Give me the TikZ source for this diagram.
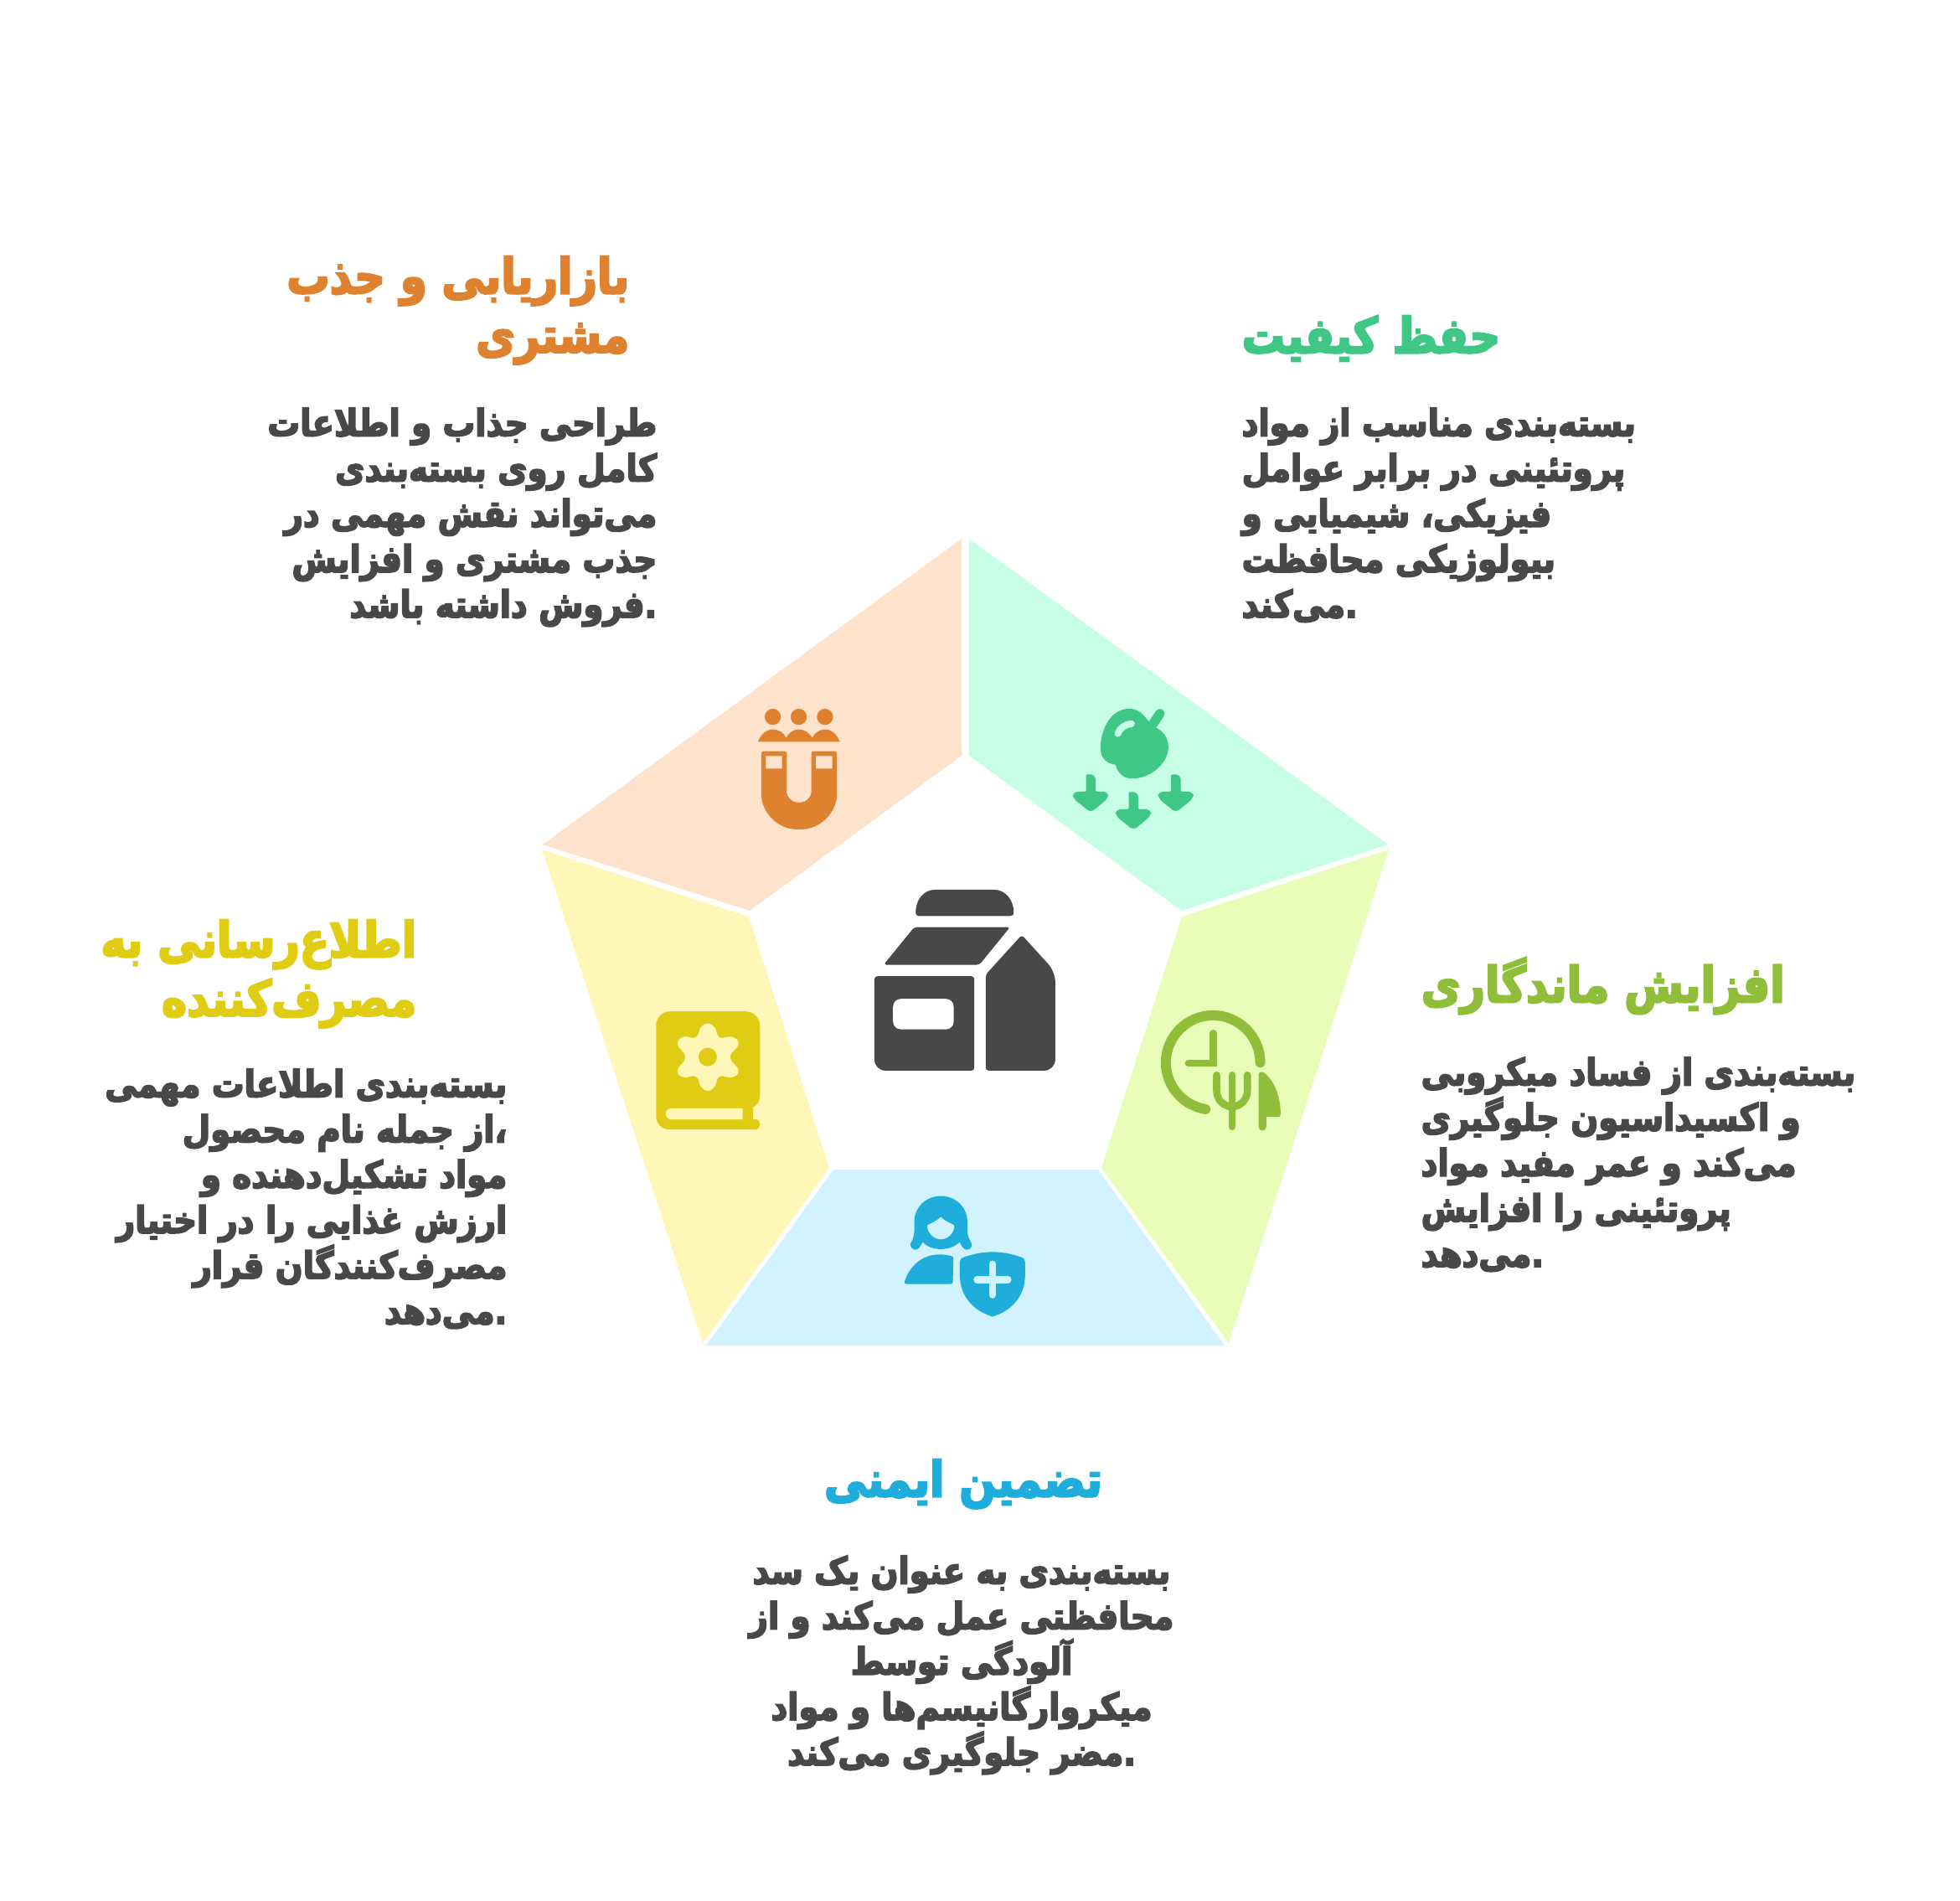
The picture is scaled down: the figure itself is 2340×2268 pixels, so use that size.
\documentclass[tikz,border=0pt]{standalone}
\usepackage{xcolor}
\usepackage{tikz}
\usepackage{fontspec}
\TeXXeTstate=1
\newfontfamily\fafont[Script=Arabic,BoldFeatures={FakeBold=4,FakeStretch=0.87}]{DejaVu Sans}
\newcommand{\rtl}[1]{\beginR #1\endR}
\definecolor{darktext}{RGB}{72, 72, 72}
\definecolor{peachfill}{RGB}{254, 227, 204}
\definecolor{mintfill}{RGB}{198, 255, 229}
\definecolor{limefill}{RGB}{232, 254, 184}
\definecolor{skyfill}{RGB}{208, 243, 254}
\definecolor{creamfill}{RGB}{254, 247, 184}
\definecolor{orangeink}{RGB}{223, 130, 48}
\definecolor{greenink}{RGB}{62, 199, 133}
\definecolor{limeink}{RGB}{145, 190, 58}
\definecolor{blueink}{RGB}{31, 173, 220}
\definecolor{yellowink}{RGB}{224, 205, 19}

\begin{document}
\begin{tikzpicture}[
    x=0.01cm, y=-0.01cm,
    title/.style={inner sep=0pt, font=\fafont\bfseries\fontsize{16.7}{20}\selectfont},
    body/.style={inner sep=0pt, text=darktext, font=\fafont\bfseries\fontsize{12.6}{15.4}\selectfont},
    icon/.style={scale=0.3333}
]
    \useasboundingbox (0, 0) rectangle (2340, 2268);

    \fill[peachfill] (1148, 643) -- (648, 1008) -- (895, 1087) -- (1148, 902) -- cycle;
    \fill[mintfill] (1157, 643) -- (1657, 1008) -- (1411, 1087) -- (1157, 902) -- cycle;
    \fill[limefill] (1658, 1014) -- (1467, 1603) -- (1315, 1394) -- (1411, 1094) -- cycle;
    \fill[skyfill] (1311, 1396) -- (1462, 1606) -- (843, 1606) -- (995, 1396) -- cycle;
    \fill[creamfill] (990, 1394) -- (839, 1603) -- (647, 1014) -- (894, 1094) -- cycle;

    \node[title, text=orangeink, anchor=north east, align=right] (markettitle) at (752, 305) {\rtl{بازاریابی و جذب}\\\rtl{مشتری}};
    \node[body, anchor=north east, align=right] (markettext) at (785, 486) {\rtl{طراحی جذاب و اطلاعات}\\\rtl{کامل روی بسته‌بندی}\\\rtl{می‌تواند نقش مهمی در}\\\rtl{جذب مشتری و افزایش}\\\rtl{.فروش داشته باشد}};

    \node[title, text=greenink, anchor=north west, align=left] (qualitytitle) at (1482, 376) {\rtl{حفظ کیفیت}};
    \node[body, anchor=north west, align=left] (qualitytext) at (1482, 486) {\rtl{بسته‌بندی مناسب از مواد}\\\rtl{پروتئینی در برابر عوامل}\\\rtl{فیزیکی، شیمیایی و}\\\rtl{بیولوژیکی محافظت}\\\rtl{.می‌کند}};

    \node[title, text=limeink, anchor=north west, align=left] (shelftitle) at (1696, 1142) {\rtl{افزایش ماندگاری}};
    \node[body, anchor=north west, align=left] (shelftext) at (1696, 1261) {\rtl{بسته‌بندی از فساد میکروبی}\\\rtl{و اکسیداسیون جلوگیری}\\\rtl{می‌کند و عمر مفید مواد}\\\rtl{پروتئینی را افزایش}\\\rtl{.می‌دهد}};

    \node[title, text=blueink, anchor=north, align=center] (safetytitle) at (1150, 1741) {\rtl{تضمین ایمنی}};
    \node[body, anchor=north, align=center] (safetytext) at (1148, 1856) {\rtl{بسته‌بندی به عنوان یک سد}\\\rtl{محافظتی عمل می‌کند و از}\\\rtl{آلودگی توسط}\\\rtl{میکروارگانیسم‌ها و مواد}\\\rtl{.مضر جلوگیری می‌کند}};

    \node[title, text=yellowink, anchor=north east, align=right] (infotitle) at (498, 1097) {\rtl{اطلاع‌رسانی به}\\\rtl{مصرف‌کننده}};
    \node[body, anchor=north east, align=right] (infotext) at (606, 1275) {\rtl{بسته‌بندی اطلاعات مهمی}\\\rtl{،از جمله نام محصول}\\\rtl{مواد تشکیل‌دهنده و}\\\rtl{ارزش غذایی را در اختیار}\\\rtl{مصرف‌کنندگان قرار}\\\rtl{.می‌دهد}};

    \begin{scope}[icon, shift={(3090, 3150)}, darktext]
        \fill (200,130) .. controls (193,130) and (190,125) .. (190,118) .. controls (190,70) and (220,36) .. (260,36) -- (470,36) .. controls (510,36) and (541,70) .. (541,118) .. controls (541,125) and (538,130) .. (530,130) -- cycle;
        \fill[rounded corners=1pt] (185,170) -- (528,170) -- (418,305) -- (75,305) -- cycle;
        \fill[rounded corners=1pt] (400,346) -- (400,684) [rounded corners=3.8pt] -- (42,684) [rounded corners=1pt] -- (42,346) -- cycle;
        \fill[white, rounded corners=2.6pt] (109,427) rectangle (326,536);
        \fill[rounded corners=1.2pt] (441,684) [rounded corners=1pt] -- (441,340) -- (570,198) [rounded corners=3.5pt] -- (690,330) [rounded corners=3.8pt] -- (690,684) [rounded corners=1pt] -- cycle;
    \end{scope}

    \begin{scope}[icon, shift={(2670, 2490)}, orangeink]
        \fill (98,77) circle[radius=29] (191,77) circle[radius=29] (285,77) circle[radius=29];
        \fill (45,166) .. controls (55,140) and (75,122) .. (98,122) .. controls (120,122) and (138,135) .. (146,152) .. controls (155,135) and (172,122) .. (191,122) .. controls (212,122) and (230,135) .. (239,152) .. controls (248,135) and (265,122) .. (285,122) .. controls (310,122) and (330,142) .. (338,166) -- cycle;
        \fill[rounded corners=.8pt] (57,345) -- (57,200) -- (148,200) -- (148,340) .. controls (148,364) and (168,383) .. (192,383) .. controls (216,383) and (236,364) .. (236,340) -- (236,200) -- (328,200) -- (328,345) .. controls (328,420) and (267,480) .. (192,480) .. controls (117,480) and (57,420) .. (57,345) -- cycle;
        \fill[peachfill] (73,217) rectangle (131,262) (253,217) rectangle (311,262);
    \end{scope}

    \begin{scope}[icon, shift={(3810, 2490)}, greenink]
        \fill (300,88) .. controls (280,60) and (260,48) .. (235,48) .. controls (170,48) and (132,120) .. (132,190) .. controls (132,225) and (155,245) .. (185,248) .. controls (195,280) and (215,298) .. (245,298) .. controls (310,298) and (375,245) .. (375,185) .. controls (375,150) and (355,128) .. (330,115) -- cycle;
        \draw[greenink, line width=3.2pt, line cap=round] (318,105) -- (345,65);
        \draw[mintfill, line width=2.3pt, line cap=round] (194,137) .. controls (203,115) and (220,104) .. (243,102);
        \fill[rounded corners=1.6pt] (80,283) -- (114,283) [rounded corners=.4pt] -- (114,345) [rounded corners=1.6pt] -- (160,345) -- (160,368) -- (97,420) -- (33,368) -- (33,345) [rounded corners=.4pt] -- (80,345) -- cycle;
        \fill[rounded corners=1.6pt] (233,346) -- (267,346) [rounded corners=.4pt] -- (267,408) [rounded corners=1.6pt] -- (313,408) -- (313,431) -- (250,483) -- (186,431) -- (186,408) [rounded corners=.4pt] -- (233,408) -- cycle;
        \fill[rounded corners=1.6pt] (385,283) -- (419,283) [rounded corners=.4pt] -- (419,345) [rounded corners=1.6pt] -- (465,345) -- (465,368) -- (402,420) -- (338,368) -- (338,345) [rounded corners=.4pt] -- (385,345) -- cycle;
    \end{scope}

    \begin{scope}[icon, shift={(4125, 3585)}, limeink]
        \draw[line width=3.4pt, line cap=round] (389,220) .. controls (389,127) and (313,51) .. (220,51) .. controls (127,51) and (51,127) .. (51,220) .. controls (51,303) and (111,374) .. (193,387);
        \draw[line width=2.47pt, line cap=round] (221,115) -- (221,222) -- (132,222);
        \draw[line width=2.47pt, line cap=round] (233,265) -- (233,320) .. controls (233,355) and (260,378) .. (288,378) .. controls (316,378) and (343,355) .. (343,320) -- (343,265);
        \draw[line width=2.47pt, line cap=round] (288,265) -- (288,450);
        \fill (383,265) .. controls (383,255) and (393,250) .. (402,256) .. controls (440,285) and (462,340) .. (462,405) .. controls (462,412) and (458,415) .. (452,415) -- (411,415) -- (411,450) .. controls (411,468) and (383,468) .. (383,450) -- cycle;
    \end{scope}

    \begin{scope}[icon, shift={(3210, 4245)}, blueink]
        \fill (160,38) .. controls (105,38) and (65,80) .. (65,130) .. controls (65,160) and (68,180) .. (52,207) .. controls (48,222) and (60,230) .. (70,230) .. controls (82,230) and (88,215) .. (95,203) .. controls (110,220) and (135,228) .. (160,228) .. controls (185,228) and (210,220) .. (227,203) .. controls (234,215) and (240,230) .. (252,230) .. controls (264,230) and (274,222) .. (270,207) .. controls (252,180) and (255,160) .. (255,130) .. controls (255,80) and (215,38) .. (160,38) -- cycle;
        \fill[skyfill] (160,113) .. controls (145,128) and (125,135) .. (112,143) .. controls (110,170) and (135,193) .. (160,193) .. controls (185,193) and (210,170) .. (208,143) .. controls (195,135) and (175,128) .. (160,113) -- cycle;
        \fill (30,345) .. controls (50,280) and (110,230) .. (198,253) .. controls (203,254) and (205,258) .. (205,262) -- (203,345) .. controls (203,350) and (200,353) .. (195,353) -- (37,353) .. controls (31,353) and (28,350) .. (30,345) -- cycle;
        \fill (228,275) .. controls (228,265) and (232,261) .. (240,258) .. controls (310,232) and (380,232) .. (450,258) .. controls (458,261) and (462,265) .. (462,275) -- (462,320) .. controls (462,400) and (410,450) .. (345,470) .. controls (280,450) and (228,400) .. (228,320) -- cycle;
        \draw[skyfill, line width=2.47pt, line cap=round] (290,337) -- (400,337) (345,282) -- (345,392);
    \end{scope}

    \begin{scope}[icon, shift={(2310, 3585)}, yellowink]
        \fill (90,37) -- (360,37) .. controls (390,37) and (412,60) .. (412,90) -- (412,340) .. controls (412,358) and (402,372) .. (387,380) -- (387,423) -- (395,423) .. controls (418,423) and (418,460) .. (395,460) -- (90,460) .. controls (60,460) and (40,440) .. (40,410) -- (40,90) .. controls (40,60) and (60,37) .. (90,37) -- cycle;
        \fill[creamfill] (95,384) -- (350,384) -- (350,424) -- (95,424) .. controls (68,424) and (68,384) .. (95,384) -- cycle;
        \fill[creamfill] plot[smooth cycle, tension=0.8] coordinates {(225,80) (250,95) (268,130) (312,128) (335,155) (305,200) (335,247) (312,273) (268,270) (250,305) (225,322) (200,305) (182,270) (138,273) (117,247) (145,200) (117,155) (138,128) (182,130) (200,95)};
        \fill (225,200) circle[radius=33];
    \end{scope}
\end{tikzpicture}
\end{document}
